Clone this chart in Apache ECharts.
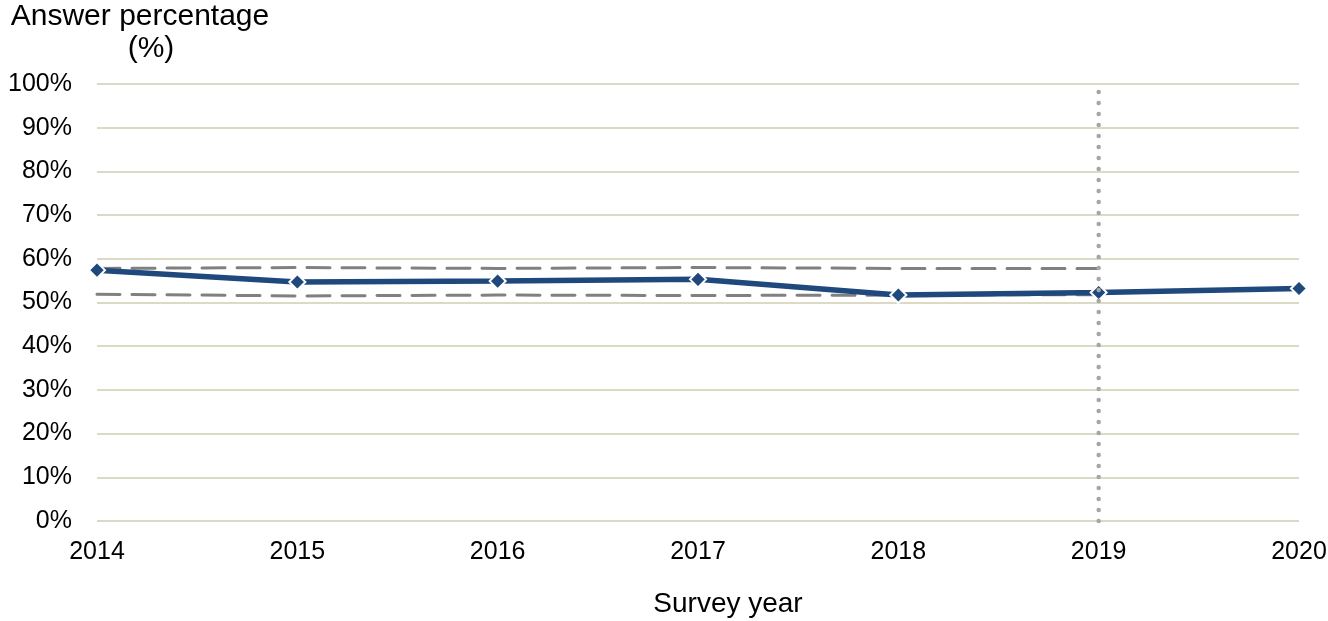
<!DOCTYPE html>
<html>
<head>
<meta charset="utf-8">
<script src="https://cdn.jsdelivr.net/npm/echarts@6/dist/echarts.min.js"></script>
<style>html,body{margin:0;padding:0;background:#fff}#c{width:1328px;height:621px}</style>
</head>
<body>
<div id="c"></div>
<script>
const years = [2014, 2015, 2016, 2017, 2018, 2019, 2020];
const answerPct = [57.4, 54.7, 54.9, 55.3, 51.7, 52.3, 53.2];
const upperYears = [2014, 2015, 2016, 2017, 2018, 2019];
const upperBand = [57.8, 58.0, 57.8, 58.0, 57.8, 57.8];
const lowerBand = [51.9, 51.5, 51.7, 51.6, 51.7, 51.8];
const markerYear = 2019;
const markerRange = [0, 98.2];

const font = 'Liberation Sans, Arial, sans-serif';
const chart = echarts.init(document.getElementById('c'));
chart.setOption({
  animation: false,
  grid: { left: 97, right: 29, top: 84, bottom: 100, containLabel: false, outerBoundsMode: 'none' },
  xAxis: {
    type: 'value', min: 2014, max: 2020, interval: 1,
    name: 'Survey year', nameLocation: 'middle', nameGap: 69,
    nameTextStyle: { color: '#000', fontSize: 28, fontFamily: font, padding: [0, 0, 0, 60] },
    axisLine: { show: false }, axisTick: { show: false },
    splitLine: { show: false },
    axisLabel: { color: '#000', fontSize: 25, fontFamily: font, margin: 19, formatter: v => String(v) }
  },
  yAxis: {
    type: 'value', min: 0, max: 100, interval: 10,
    name: 'Answer percentage\n{p|(%)}', nameLocation: 'end', nameGap: 19,
    nameTextStyle: {
      color: '#000', fontSize: 30, fontFamily: font, align: 'center', lineHeight: 32, padding: [0, 0, 0, 86],
      rich: { p: { color: '#000', fontSize: 30, fontFamily: font, lineHeight: 32, padding: [0, 0, 0, 22] } }
    },
    axisLine: { show: false }, axisTick: { show: false },
    splitLine: { lineStyle: { color: '#dcd9c4', width: 2 } },
    axisLabel: { color: '#000', fontSize: 25, fontFamily: font, margin: 25, formatter: v => v + '%' }
  },
  series: [
    {
      type: 'line', data: upperYears.map((y, i) => [y, upperBand[i]]),
      symbol: 'none', lineStyle: { color: '#808080', width: 3, type: [23, 12], cap: 'round' }, z: 2
    },
    {
      type: 'line', data: upperYears.map((y, i) => [y, lowerBand[i]]),
      symbol: 'none', lineStyle: { color: '#808080', width: 3, type: [23, 12], cap: 'round' }, z: 2
    },
    {
      type: 'line', data: [[markerYear, markerRange[0]], [markerYear, markerRange[1]]],
      symbol: 'none', lineStyle: { color: '#a6a6a6', width: 4.5, type: [0.1, 10.9], cap: 'round' }, z: 6
    },
    {
      type: 'line', data: years.map((y, i) => [y, answerPct[i]]),
      symbol: 'diamond', symbolSize: 16,
      lineStyle: { color: '#1f497d', width: 5.5 },
      itemStyle: { color: '#1f497d', borderColor: '#fff', borderWidth: 2 }, z: 5
    }
  ]
});
</script>
</body>
</html>
